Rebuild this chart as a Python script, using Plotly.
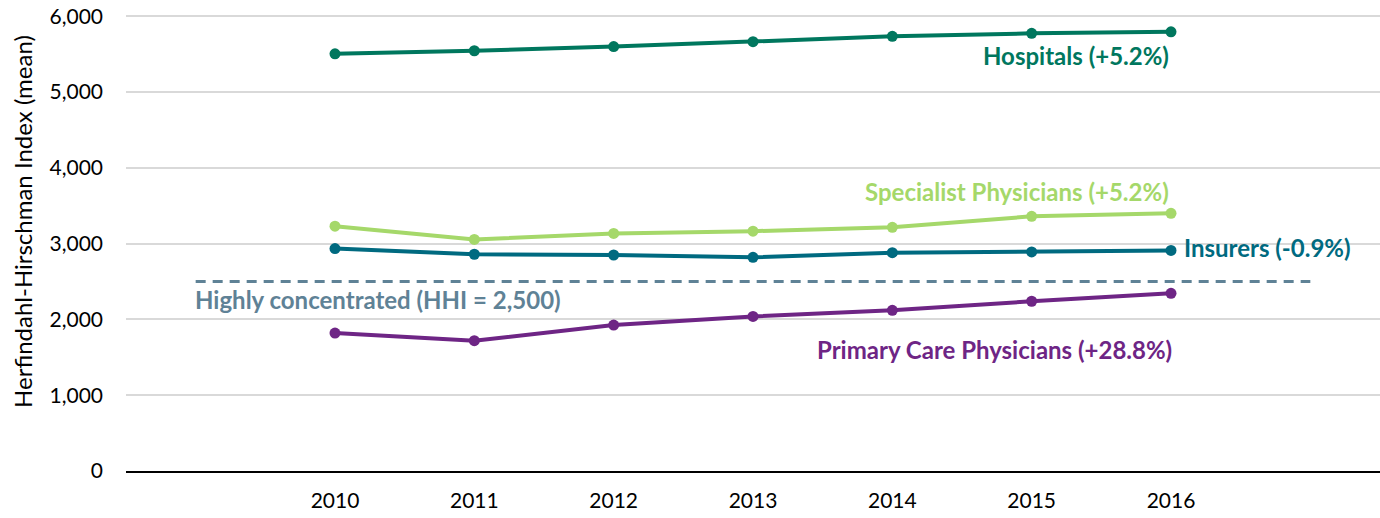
import plotly.graph_objects as go

years = [2010, 2011, 2012, 2013, 2014, 2015, 2016]
hospitals = [5505, 5545, 5600, 5665, 5735, 5775, 5795]
specialists = [3230, 3055, 3135, 3165, 3215, 3360, 3400]
insurers = [2935, 2860, 2850, 2820, 2880, 2890, 2910]
primary_care = [1820, 1720, 1925, 2040, 2120, 2240, 2345]
threshold = 2500

colors = {
    "hosp": "#00775e",
    "spec": "#a5d86a",
    "ins": "#006a80",
    "pcp": "#6e2585",
    "hhi": "#5f8296",
}
FONT = "Lato"

fig = go.Figure()

# dashed threshold line
fig.add_trace(go.Scatter(x=[2009, 2017], y=[threshold, threshold], mode="lines",
                         line=dict(color=colors["hhi"], width=3, dash="10px,7px"),
                         hoverinfo="skip", showlegend=False))

for ys, c in [(hospitals, "hosp"), (specialists, "spec"), (insurers, "ins"), (primary_care, "pcp")]:
    fig.add_trace(go.Scatter(x=years, y=ys, mode="lines+markers",
                             line=dict(color=colors[c], width=4),
                             marker=dict(color=colors[c], size=11),
                             showlegend=False))

# labels
def label(text, x, y, c, anchor):
    fig.add_annotation(x=x, y=y, text="<b>" + text + "</b>", showarrow=False,
                       xanchor=anchor, yanchor="middle",
                       font=dict(family=FONT, size=24, color=colors[c]))

label("Hospitals (+5.2%)", 2016, 5480, "hosp", "right")
label("Specialist Physicians (+5.2%)", 2016, 3690, "spec", "right")
label("Insurers (-0.9%)", 2016.08, 2945, "ins", "left")
label("Highly concentrated (HHI = 2,500)", 2008.98, 2260, "hhi", "left")
label("Primary Care Physicians (+28.8%)", 2016.02, 1600, "pcp", "right")

# y title sits a bit above the middle of the axis
fig.add_annotation(xref="paper", yref="paper", x=-0.083, y=0.547, textangle=-90,
                   text="Herfindahl-Hirschman Index (mean)", showarrow=False,
                   xanchor="center", yanchor="middle",
                   font=dict(family=FONT, size=24, color="black"))

fig.update_xaxes(range=[2008.5, 2017.5], tickvals=years, ticktext=[str(y) for y in years],
                 showgrid=False, zeroline=False, showline=True, linecolor="black", linewidth=1.5,
                 ticks="", ticklabelstandoff=10, automargin=False,
                 tickfont=dict(family=FONT, size=21, color="black"))
fig.update_yaxes(range=[0, 6030], tickvals=[0, 1000, 2000, 3000, 4000, 5000, 6000],
                 tickformat=",", showgrid=True, gridcolor="#d9d9d9", gridwidth=1.5,
                 zeroline=False, ticks="", ticklabelstandoff=22, automargin=False,
                 ticklabeloverflow="allow",
                 tickfont=dict(family=FONT, size=21, color="black"))

fig.update_layout(width=1380, height=518, plot_bgcolor="white", paper_bgcolor="white",
                  margin=dict(l=126, r=0, t=14, b=47), showlegend=False)

# drop the page's default 8px body margin so the figure fills the window
fig.write_html("out.html", config={"displayModeBar": False},
               post_script="document.body.style.margin='0px';")
